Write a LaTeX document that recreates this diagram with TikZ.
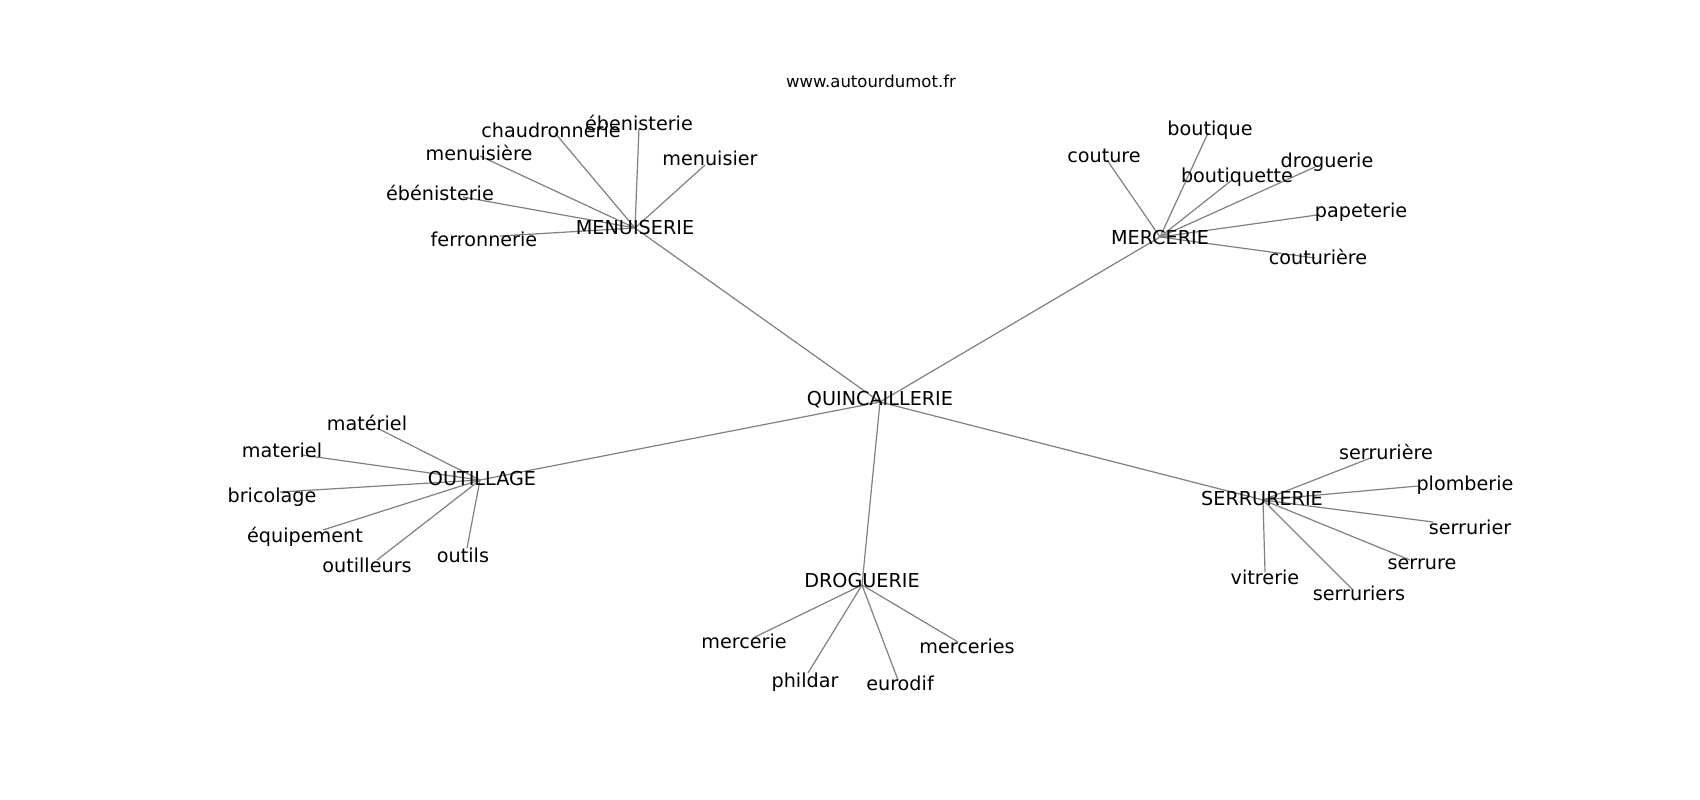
\documentclass[tikz,border=0pt]{standalone}
\usepackage{fontspec}
\setmainfont{DejaVu Sans}
\begin{document}
\begin{tikzpicture}[x=1pt,y=-1pt,
  lbl/.style={font=\fontsize{19.2pt}{20pt}\selectfont, text height=14pt, text depth=0pt, inner sep=0pt, anchor=center, text=black},
  ttl/.style={font=\fontsize{16.5pt}{18pt}\selectfont, text height=12.4pt, text depth=0pt, inner sep=0pt, anchor=center},
  edge/.style={draw=black!50, line width=1.2pt}]
\useasboundingbox[fill=white] (0,0) rectangle (1700,800);

% hub points
\coordinate (pQ) at (880,402);
\coordinate (pMEN) at (635,228);
\coordinate (pMER) at (1160,237);
\coordinate (pOUT) at (480,480);
\coordinate (pSER) at (1263,500);
\coordinate (pDRO) at (862,585);

% leaf points
\coordinate (p1) at (555,133);
\coordinate (p2) at (639,128);
\coordinate (p3) at (705,165);
\coordinate (p4) at (480,156);
\coordinate (p5) at (463,197);
\coordinate (p6) at (500,236);

\coordinate (q1) at (1107,160);
\coordinate (q2) at (1208,133);
\coordinate (q3) at (1232,180);
\coordinate (q4) at (1315,167);
\coordinate (q5) at (1317,215);
\coordinate (q6) at (1315,258);

\coordinate (r1) at (377,428);
\coordinate (r2) at (302,455);
\coordinate (r3) at (280,492);
\coordinate (r4) at (323,530);
\coordinate (r5) at (377,560);
\coordinate (r6) at (467,548);

\coordinate (s1) at (1373,457);
\coordinate (s2) at (1418,486);
\coordinate (s3) at (1433,522);
\coordinate (s4) at (1410,560);
\coordinate (s5) at (1353,590);
\coordinate (s6) at (1265,572);

\coordinate (t1) at (753,638);
\coordinate (t2) at (808,673);
\coordinate (t3) at (898,680);
\coordinate (t4) at (958,642);

% edges
\foreach \h in {pMEN,pMER,pOUT,pSER,pDRO} \draw[edge] (pQ) -- (\h);
\foreach \l in {p1,p2,p3,p4,p5,p6} \draw[edge] (pMEN) -- (\l);
\foreach \l in {q1,q2,q3,q4,q5,q6} \draw[edge] (pMER) -- (\l);
\foreach \l in {r1,r2,r3,r4,r5,r6} \draw[edge] (pOUT) -- (\l);
\foreach \l in {s1,s2,s3,s4,s5,s6} \draw[edge] (pSER) -- (\l);
\foreach \l in {t1,t2,t3,t4} \draw[edge] (pDRO) -- (\l);

% labels
\node[ttl] (title) at (871,81) {www.autourdumot.fr};

\node[lbl] (Q) at (880,398) {QUINCAILLERIE};
\node[lbl] (MEN) at (635,227) {MENUISERIE};
\node[lbl] (MER) at (1160,237) {MERCERIE};
\node[lbl] (OUT) at (482,478) {OUTILLAGE};
\node[lbl] (SER) at (1262,498) {SERRURERIE};
\node[lbl] (DRO) at (862,580) {DROGUERIE};

\node[lbl] (l1) at (551,130) {chaudronnerie};
\node[lbl] (l2) at (639,123) {ébenisterie};
\node[lbl] (l3) at (710,158) {menuisier};
\node[lbl] (l4) at (479,153) {menuisière};
\node[lbl] (l5) at (440,193) {ébénisterie};
\node[lbl] (l6) at (484,239) {ferronnerie};

\node[lbl] (m1) at (1104,155) {couture};
\node[lbl] (m2) at (1210,128) {boutique};
\node[lbl] (m3) at (1237,175) {boutiquette};
\node[lbl] (m4) at (1327,160) {droguerie};
\node[lbl] (m5) at (1361,210) {papeterie};
\node[lbl] (m6) at (1318,257) {couturière};

\node[lbl] (o1) at (367,423) {matériel};
\node[lbl] (o2) at (282,450) {materiel};
\node[lbl] (o3) at (272,495) {bricolage};
\node[lbl] (o4) at (305,535) {équipement};
\node[lbl] (o5) at (367,565) {outilleurs};
\node[lbl] (o6) at (463,555) {outils};

\node[lbl] (n1) at (1386,452) {serrurière};
\node[lbl] (n2) at (1465,483) {plomberie};
\node[lbl] (n3) at (1470,527) {serrurier};
\node[lbl] (n4) at (1422,562) {serrure};
\node[lbl] (n5) at (1359,593) {serruriers};
\node[lbl] (n6) at (1265,577) {vitrerie};

\node[lbl] (d1) at (744,641) {mercerie};
\node[lbl] (d2) at (805,680) {phildar};
\node[lbl] (d3) at (900,683) {eurodif};
\node[lbl] (d4) at (967,646) {merceries};
\end{tikzpicture}
\end{document}
